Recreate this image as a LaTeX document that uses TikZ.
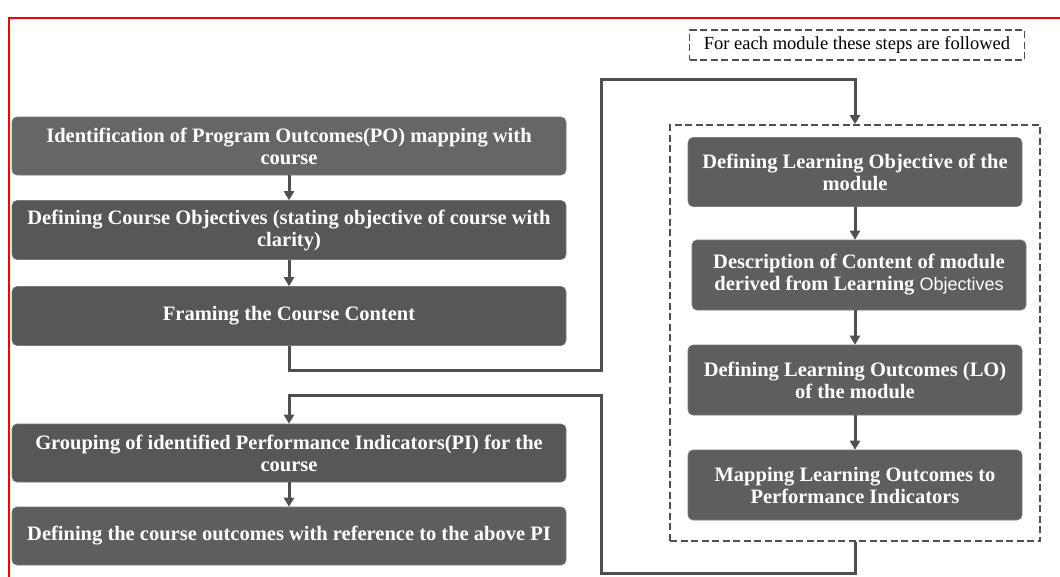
\documentclass[tikz,border=0pt]{standalone}
\usepackage{fontspec}
\setmainfont{Liberation Serif}
\newfontfamily\sansf{Liberation Sans}
\usetikzlibrary{arrows.meta}
\definecolor{boxA}{HTML}{666666}
\definecolor{boxB}{HTML}{575757}
\definecolor{boxC}{HTML}{5E5E5E}
\definecolor{lineg}{HTML}{4F4F4F}
\tikzset{
  stepbox/.style={rectangle, rounded corners=5pt, fill=boxB, draw=boxB!80!white, line width=0.6pt,
    text=white, font=\bfseries\fontsize{20.5}{22}\selectfont, align=center, inner sep=2pt},
  conn/.style={draw=lineg, line width=3pt},
  arr/.style={conn, -{Triangle[width=10pt,length=9pt]}},
  dashbox/.style={draw=lineg, line width=1.8pt, dash pattern=on 7pt off 3.5pt},
}
\begin{document}
\begin{tikzpicture}[x=1pt,y=-1pt]
\useasboundingbox (0,0) rectangle (1060,576);
\fill[white] (0,0) rectangle (1060,576);
\draw[red, line width=2.2pt] (9,577) -- (9,18) -- (1061,18);

% left column
\node[stepbox, fill=boxA, minimum width=554pt, minimum height=58pt] (b1) at (289,146)
  {Identification of Program Outcomes(PO) mapping with\\course};
\node[stepbox, minimum width=554pt, minimum height=59pt] (b2) at (289,230)
  {Defining Course Objectives (stating objective of course with\\clarity)};
\node[stepbox, minimum width=554pt, minimum height=59pt] (b3) at (289,316)
  {Framing the Course Content};
\node[stepbox, minimum width=554pt, minimum height=58pt] (b4) at (289,453)
  {Grouping of identified Performance Indicators(PI) for the\\course};
\node[stepbox, fill=boxC, minimum width=554pt, minimum height=58pt] (b5) at (289,536)
  {Defining the course outcomes with reference to the above PI};

% right column
\node[dashbox, minimum width=370pt, minimum height=416pt] (mod) at (855,333) {};
\node[dashbox, minimum width=335pt, minimum height=30pt, font=\fontsize{18.5}{20}\selectfont,
  inner sep=2pt] (cap) at (857,45) {For each module these steps are followed};

\node[stepbox, fill=boxC, minimum width=334pt, minimum height=69pt] (r1) at (855,172)
  {Defining Learning Objective of the\\module};
\node[stepbox, fill=boxC, minimum width=334pt, minimum height=70pt] (r2) at (859,275)
  {Description of Content of module\\derived from Learning {\sansf\mdseries\fontsize{18}{22}\selectfont Objectives}};
\node[stepbox, fill=boxC, minimum width=334pt, minimum height=70pt] (r3) at (855,380)
  {Defining Learning Outcomes (LO)\\of the module};
\node[stepbox, fill=boxC, minimum width=334pt, minimum height=70pt] (r4) at (855,485)
  {Mapping Learning Outcomes to\\Performance Indicators};

% connectors
\draw[arr] (b1.south) -- (b2.north);
\draw[arr] (b2.south) -- (b3.north);
\draw[arr] (b4.south) -- (b5.north);
\draw[arr] (r1.south) -- (r1.south |- r2.north);
\draw[arr] (r2.south -| r1.south) -- (r3.north);
\draw[arr] (r3.south) -- (r4.north);

\coordinate (c1) at (601,370);
\coordinate (c2) at (601,79);
\draw[arr] (b3.south) |- (c1) -- (c2) -| (mod.north);

\coordinate (c3) at (601,573);
\coordinate (c4) at (601,395);
\draw[arr] (mod.south) |- (c3) -- (c4) -| (b4.north);
\end{tikzpicture}
\end{document}
